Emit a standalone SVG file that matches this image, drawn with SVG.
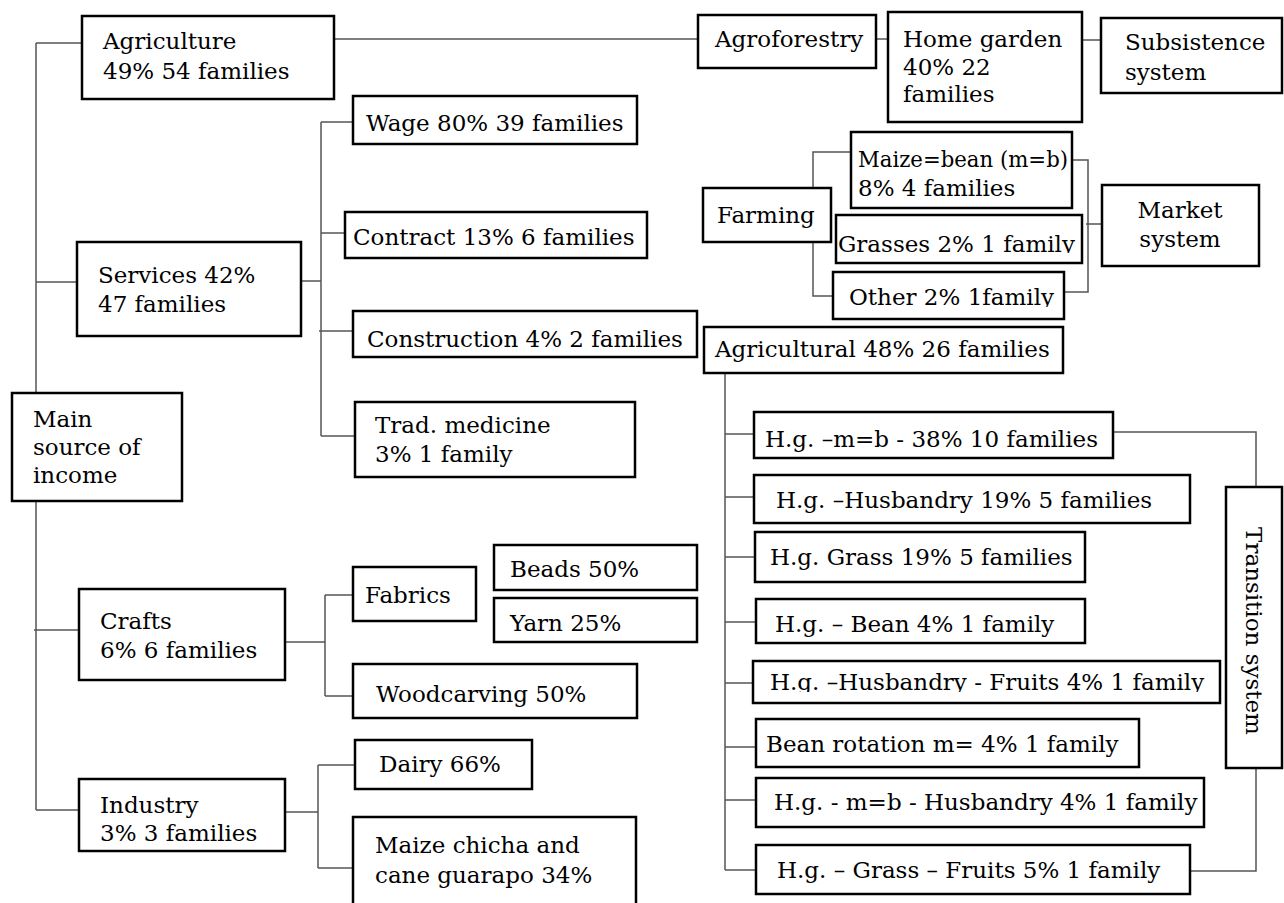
<svg xmlns="http://www.w3.org/2000/svg" width="1284" height="903" viewBox="0 0 1284 903">
<style>
.b{fill:#fff;stroke:#000;stroke-width:2.5}
.t{font-family:"DejaVu Serif","Liberation Serif",serif;font-size:23px;fill:#000}
.c{stroke:#555;stroke-width:1.5;fill:none}
</style>
<defs>
<clipPath id="cg"><rect x="836" y="215" width="246" height="38"/></clipPath>
<clipPath id="co"><rect x="833" y="272" width="231" height="35"/></clipPath>
<clipPath id="chf"><rect x="753" y="661" width="467" height="31"/></clipPath>
</defs>
<rect width="1284" height="903" fill="#fff"/>
<g id="connectors">
<path class="c" d="M36,43 V393 M36,501 V810 M36,43 H82 M36,282 H77 M34,630 H79 M36,810 H79"/>
<path class="c" d="M334,39 H698 M876,39 H888 M1082,40 H1101"/>
<path class="c" d="M301,281 H321 M321,122 V436 M321,122 H353 M321,233 H345 M319,331 H353 M321,436 H355"/>
<path class="c" d="M285,642 H325 M325,595 V696 M325,595 H353 M325,696 H353"/>
<path class="c" d="M285,812 H318 M318,765 V868 M318,765 H355 M318,868 H353"/>
<path class="c" d="M813,188 V152 H851 M813,242 V296 H833"/>
<path class="c" d="M1072,160 H1088 V292 H1064 M1086,224 H1102"/>
<path class="c" d="M725,373 V870 M725,434 H754 M725,497 H754 M725,557 H755 M725,622 H756 M725,683 H753 M725,747 H756 M725,800 H756 M725,870 H756"/>
<path class="c" d="M1113,432 H1256 V487 M1256,768 V871 H1190"/>
</g>
<g id="main"><rect class="b" x="12" y="393" width="170" height="108"/><text class="t" x="33" y="427">Main</text><text class="t" x="33" y="455">source of</text><text class="t" x="33" y="483">income</text></g>
<g id="agriculture"><rect class="b" x="82" y="16" width="252" height="83"/><text class="t" x="103" y="49">Agriculture</text><text class="t" x="103" y="79">49% 54 families</text></g>
<g id="services"><rect class="b" x="77" y="242" width="224" height="94"/><text class="t" x="98" y="283">Services 42%</text><text class="t" x="98" y="312">47 families</text></g>
<g id="crafts"><rect class="b" x="79" y="589" width="206" height="91"/><text class="t" x="100" y="629">Crafts</text><text class="t" x="100" y="658">6% 6 families</text></g>
<g id="industry"><rect class="b" x="79" y="779" width="206" height="72"/><text class="t" x="100" y="813">Industry</text><text class="t" x="100" y="841">3% 3 families</text></g>
<g id="wage"><rect class="b" x="353" y="96" width="284" height="48"/><text class="t" x="366" y="131">Wage 80% 39 families</text></g>
<g id="contract"><rect class="b" x="345" y="212" width="302" height="46"/><text class="t" x="353" y="245">Contract 13% 6 families</text></g>
<g id="construction"><rect class="b" x="353" y="311" width="344" height="46"/><text class="t" x="367" y="347">Construction 4% 2 families</text></g>
<g id="tradmed"><rect class="b" x="355" y="402" width="280" height="75"/><text class="t" x="375" y="433">Trad. medicine</text><text class="t" x="375" y="462">3% 1 family</text></g>
<g id="fabrics"><rect class="b" x="353" y="567" width="123" height="54"/><text class="t" x="365" y="603">Fabrics</text></g>
<g id="beads"><rect class="b" x="494" y="545" width="203" height="45"/><text class="t" x="510" y="577">Beads 50%</text></g>
<g id="yarn"><rect class="b" x="494" y="598" width="203" height="44"/><text class="t" x="510" y="631">Yarn 25%</text></g>
<g id="woodcarving"><rect class="b" x="353" y="664" width="284" height="54"/><text class="t" x="376" y="702">Woodcarving 50%</text></g>
<g id="dairy"><rect class="b" x="355" y="740" width="177" height="49"/><text class="t" x="379" y="772">Dairy 66%</text></g>
<g id="chicha"><rect class="b" x="353" y="817" width="283" height="95"/><text class="t" x="375" y="853">Maize chicha and</text><text class="t" x="375" y="883">cane guarapo 34%</text></g>
<g id="agroforestry"><rect class="b" x="698" y="15" width="178" height="53"/><text class="t" x="715" y="47">Agroforestry</text></g>
<g id="homegarden"><rect class="b" x="888" y="12" width="194" height="110"/><text class="t" x="903" y="47">Home garden</text><text class="t" x="903" y="75">40% 22</text><text class="t" x="903" y="102">families</text></g>
<g id="subsistence"><rect class="b" x="1101" y="18" width="181" height="75"/><text class="t" x="1125" y="50">Subsistence</text><text class="t" x="1125" y="80">system</text></g>
<g id="farming"><rect class="b" x="703" y="188" width="128" height="54"/><text class="t" x="717" y="223">Farming</text></g>
<g id="maizebean"><rect class="b" x="851" y="132" width="221" height="76"/><text class="t" x="858" y="167" textLength="210" lengthAdjust="spacingAndGlyphs">Maize=bean (m=b)</text><text class="t" x="858" y="196">8% 4 families</text></g>
<g id="grasses"><rect class="b" x="836" y="215" width="246" height="48"/><text class="t" x="838" y="252" clip-path="url(#cg)">Grasses 2% 1 family</text></g>
<g id="other"><rect class="b" x="833" y="272" width="231" height="47"/><text class="t" x="849" y="305" clip-path="url(#co)">Other 2% 1family</text></g>
<g id="market"><rect class="b" x="1102" y="185" width="157" height="81"/><text class="t" x="1180" y="218" text-anchor="middle">Market</text><text class="t" x="1180" y="247" text-anchor="middle">system</text></g>
<g id="agricultural"><rect class="b" x="704" y="327" width="359" height="46"/><text class="t" x="715" y="357">Agricultural 48% 26 families</text></g>
<g id="hg1"><rect class="b" x="754" y="412" width="359" height="46"/><text class="t" x="765" y="447">H.g. –m=b - 38% 10 families</text></g>
<g id="hg2"><rect class="b" x="754" y="475" width="436" height="48"/><text class="t" x="776" y="508">H.g. –Husbandry 19% 5 families</text></g>
<g id="hg3"><rect class="b" x="755" y="532" width="330" height="50"/><text class="t" x="770" y="565">H.g. Grass 19% 5 families</text></g>
<g id="hg4"><rect class="b" x="756" y="599" width="329" height="44"/><text class="t" x="775" y="632">H.g. – Bean 4% 1 family</text></g>
<g id="hg5"><rect class="b" x="753" y="661" width="467" height="42"/><text class="t" x="770" y="690" clip-path="url(#chf)">H.g. –Husbandry - Fruits 4% 1 family</text></g>
<g id="hg6"><rect class="b" x="756" y="719" width="383" height="48"/><text class="t" x="766" y="752">Bean rotation m= 4% 1 family</text></g>
<g id="hg7"><rect class="b" x="756" y="778" width="448" height="49"/><text class="t" x="774" y="810">H.g. - m=b - Husbandry 4% 1 family</text></g>
<g id="hg8"><rect class="b" x="756" y="845" width="434" height="49"/><text class="t" x="777" y="878">H.g. – Grass – Fruits 5% 1 family</text></g>
<g id="transition"><rect class="b" x="1226" y="487" width="56" height="281"/><text class="t" transform="translate(1246,631) rotate(90)" text-anchor="middle">Transition system</text></g>
</svg>
